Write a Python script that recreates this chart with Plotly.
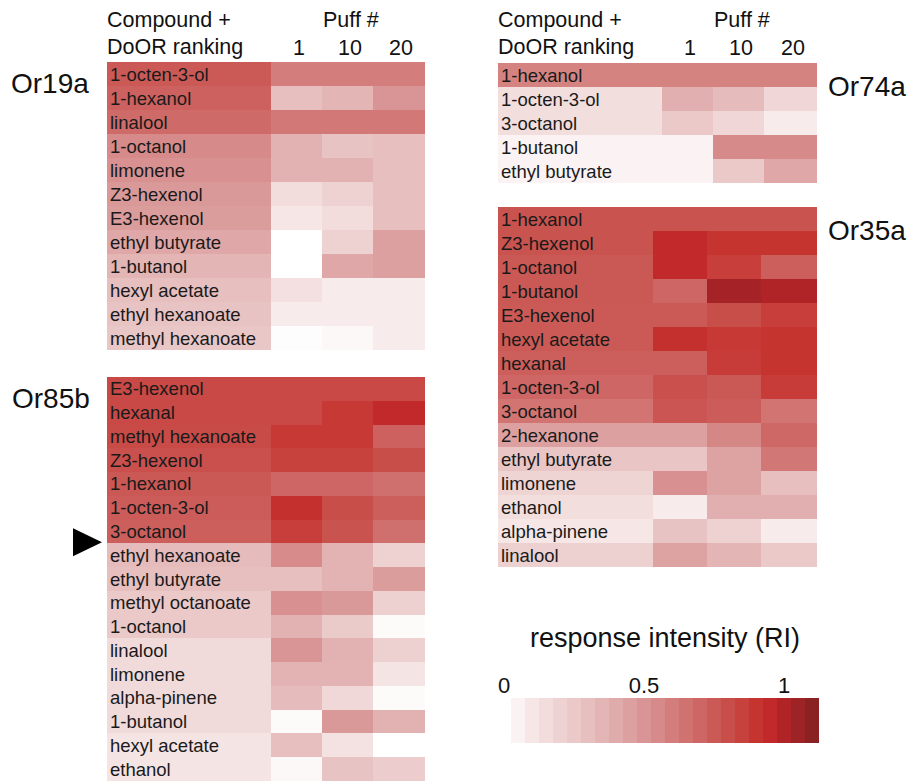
import plotly.graph_objects as go

W, H = 909, 781
FONT = "Liberation Sans, Arial, sans-serif"

puff_labels = ["1", "10", "20"]

# Or19a
or19a_compounds = ["1-octen-3-ol", "1-hexanol", "linalool", "1-octanol", "limonene",
                   "Z3-hexenol", "E3-hexenol", "ethyl butyrate", "1-butanol",
                   "hexyl acetate", "ethyl hexanoate", "methyl hexanoate"]
or19a_door = [0.75, 0.72, 0.68, 0.55, 0.52, 0.48, 0.47, 0.42, 0.35, 0.30, 0.28, 0.26]
or19a_puff1 = [0.60, 0.30, 0.62, 0.37, 0.37, 0.15, 0.10, 0.00, 0.00, 0.13, 0.08, 0.01]
or19a_puff10 = [0.60, 0.35, 0.62, 0.28, 0.37, 0.20, 0.15, 0.20, 0.42, 0.08, 0.08, 0.03]
or19a_puff20 = [0.60, 0.50, 0.62, 0.30, 0.30, 0.30, 0.30, 0.45, 0.45, 0.08, 0.08, 0.08]

# Or85b
or85b_compounds = ["E3-hexenol", "hexanal", "methyl hexanoate", "Z3-hexenol", "1-hexanol",
                   "1-octen-3-ol", "3-octanol", "ethyl hexanoate", "ethyl butyrate",
                   "methyl octanoate", "1-octanol", "linalool", "limonene", "alpha-pinene",
                   "1-butanol", "hexyl acetate", "ethanol"]
or85b_door = [0.82, 0.82, 0.81, 0.79, 0.76, 0.74, 0.73, 0.32, 0.30, 0.25, 0.25,
              0.16, 0.16, 0.16, 0.16, 0.11, 0.11]
or85b_puff1 = [0.82, 0.82, 0.88, 0.85, 0.70, 0.92, 0.86, 0.54, 0.30, 0.52, 0.37,
               0.50, 0.36, 0.32, 0.02, 0.30, 0.03]
or85b_puff10 = [0.82, 0.88, 0.88, 0.85, 0.70, 0.80, 0.78, 0.36, 0.36, 0.48, 0.24,
                0.37, 0.36, 0.17, 0.48, 0.12, 0.28]
or85b_puff20 = [0.82, 0.95, 0.72, 0.80, 0.66, 0.73, 0.66, 0.20, 0.47, 0.21, 0.02,
                0.21, 0.11, 0.02, 0.37, 0.00, 0.23]

# Or74a
or74a_compounds = ["1-hexanol", "1-octen-3-ol", "3-octanol", "1-butanol", "ethyl butyrate"]
or74a_door = [0.58, 0.14, 0.14, 0.05, 0.05]
or74a_puff1 = [0.58, 0.38, 0.25, 0.05, 0.05]
or74a_puff10 = [0.58, 0.32, 0.18, 0.55, 0.25]
or74a_puff20 = [0.58, 0.18, 0.08, 0.55, 0.42]

# Or35a
or35a_compounds = ["1-hexanol", "Z3-hexenol", "1-octanol", "1-butanol", "E3-hexenol",
                   "hexyl acetate", "hexanal", "1-octen-3-ol", "3-octanol", "2-hexanone",
                   "ethyl butyrate", "limonene", "ethanol", "alpha-pinene", "linalool"]
or35a_door = [0.78, 0.78, 0.76, 0.76, 0.75, 0.75, 0.73, 0.70, 0.64, 0.45, 0.27,
              0.19, 0.14, 0.10, 0.21]
or35a_puff1 = [0.78, 0.95, 0.95, 0.70, 0.75, 0.92, 0.73, 0.79, 0.77, 0.45, 0.27,
               0.52, 0.08, 0.28, 0.44]
or35a_puff10 = [0.78, 0.90, 0.86, 1.03, 0.80, 0.88, 0.87, 0.76, 0.74, 0.56, 0.44,
                0.44, 0.38, 0.20, 0.35]
or35a_puff20 = [0.78, 0.90, 0.73, 1.00, 0.86, 0.90, 0.90, 0.87, 0.64, 0.69, 0.63,
                0.30, 0.38, 0.08, 0.25]

# legend steps (response intensity)
ri_steps = [0.0, 0.05, 0.1, 0.15, 0.2, 0.25, 0.3, 0.35, 0.4, 0.45, 0.5, 0.55,
            0.6, 0.65, 0.7, 0.75, 0.8, 0.85, 0.9, 0.95, 1.0, 1.05, 1.1]
ri_ticks = [0, 0.5, 1]

ZMAX = 1.1
color_stops = [
    (0.0, "#FFFFFF"), (0.1, "#F6E6E6"), (0.2, "#EED2D2"), (0.3, "#E7BFBF"),
    (0.4, "#E0ABAB"), (0.5, "#D99595"), (0.6, "#D37E7C"), (0.7, "#CD6664"),
    (0.8, "#C84E4A"), (0.9, "#C63430"), (0.95, "#C2292A"), (1.0, "#B02427"),
    (1.1, "#8A2224"),
]
colorscale = [[v / ZMAX, c] for v, c in color_stops]


def px(x):
    return x / W


def py(y):
    return 1 - y / H


panels = [
    dict(name="Or19a", compounds=or19a_compounds,
         cols=[or19a_door, or19a_puff1, or19a_puff10, or19a_puff20],
         box=(107, 62, 425, 350), edges=[0, 164, 215, 266, 318],
         label=(50, 84), header=True),
    dict(name="Or85b", compounds=or85b_compounds,
         cols=[or85b_door, or85b_puff1, or85b_puff10, or85b_puff20],
         box=(107, 377, 425, 781), edges=[0, 164, 215, 266, 318],
         label=(51, 398), header=False),
    dict(name="Or74a", compounds=or74a_compounds,
         cols=[or74a_door, or74a_puff1, or74a_puff10, or74a_puff20],
         box=(498, 63, 817, 183), edges=[0, 164, 215, 266, 319],
         label=(867, 86), header=True),
    dict(name="Or35a", compounds=or35a_compounds,
         cols=[or35a_door, or35a_puff1, or35a_puff10, or35a_puff20],
         box=(498, 207, 817, 567), edges=[0, 155, 209, 263, 319],
         label=(867, 230), header=False),
]

fig = go.Figure()
annotations = []
layout_axes = {}

for i, p in enumerate(panels, start=1):
    left, top, right, bottom = p["box"]
    xa, ya = f"x{i}", f"y{i}"
    z = [list(row) for row in zip(*p["cols"])]
    n = len(p["compounds"])
    fig.add_trace(go.Heatmap(
        z=z, x=p["edges"], y=list(range(n)),
        xaxis=xa, yaxis=ya,
        colorscale=colorscale, zmin=0, zmax=ZMAX,
        showscale=False, hoverinfo="skip",
    ))
    layout_axes[f"xaxis{i}"] = dict(
        domain=[px(left), px(right)], anchor=ya,
        range=[p["edges"][0], p["edges"][-1]], visible=False, fixedrange=True,
    )
    layout_axes[f"yaxis{i}"] = dict(
        domain=[py(bottom), py(top)], anchor=xa,
        range=[n - 0.5, -0.5], visible=False, fixedrange=True,
    )
    # compound names
    for r, name in enumerate(p["compounds"]):
        annotations.append(dict(
            x=p["edges"][0], y=r, xref=xa, yref=ya, text=name,
            xanchor="left", yanchor="middle", showarrow=False, xshift=1,
            font=dict(size=18.5, color="#1a1a1a"),
        ))
    # receptor label
    annotations.append(dict(
        x=px(p["label"][0]), y=py(p["label"][1]), xref="paper", yref="paper",
        text=p["name"], showarrow=False, xanchor="center", yanchor="middle",
        font=dict(size=28, color="#111"),
    ))
    if p["header"]:
        for txt, yy in (("Compound +", 20), ("DoOR ranking", 47)):
            annotations.append(dict(
                x=px(left), y=py(yy), xref="paper", yref="paper", text=txt,
                xanchor="left", yanchor="middle", showarrow=False, xshift=-2,
                font=dict(size=21.5, color="#111"),
            ))
        e = p["edges"]
        centers = [(e[k] + e[k + 1]) / 2 for k in range(1, 4)]
        annotations.append(dict(
            x=centers[1] + 3, y=py(20), xref=xa, yref="paper", text="Puff #",
            xanchor="center", yanchor="middle", showarrow=False,
            font=dict(size=21.5, color="#111"),
        ))
        for c, lab in zip(centers, puff_labels):
            annotations.append(dict(
                x=c + 2, y=py(48), xref=xa, yref="paper", text=lab,
                xanchor="center", yanchor="middle", showarrow=False,
                font=dict(size=21.5, color="#111"),
            ))

# response intensity legend bar
fig.add_trace(go.Heatmap(
    z=[ri_steps], x=ri_steps, y=[0], xaxis="x5", yaxis="y5",
    colorscale=colorscale, zmin=0, zmax=ZMAX, showscale=False, hoverinfo="skip",
))
layout_axes["xaxis5"] = dict(
    domain=[px(497), px(819)], anchor="y5", range=[-0.025, 1.125],
    side="top", tickvals=ri_ticks, ticktext=["0", "0.5", "1"], ticks="",
    showgrid=False, zeroline=False, showline=False, fixedrange=True,
    tickfont=dict(size=22, color="#111"),
)
layout_axes["yaxis5"] = dict(
    domain=[py(743), py(698)], anchor="x5", visible=False, fixedrange=True,
)
annotations.append(dict(
    x=px(665), y=py(638), xref="paper", yref="paper",
    text="response intensity (RI)", showarrow=False,
    xanchor="center", yanchor="middle", font=dict(size=27, color="#111"),
))

fig.update_layout(
    width=W, height=H,
    margin=dict(t=0, l=0, b=0, r=0),
    paper_bgcolor="white", plot_bgcolor="white",
    font=dict(family=FONT),
    annotations=annotations,
    shapes=[dict(
        type="path", xref="paper", yref="y2",
        xsizemode="pixel", xanchor=px(88),
        ysizemode="pixel", yanchor=6.45,
        path="M -15,-14 L 14,0 L -15,14 Z",
        fillcolor="black", line=dict(width=0),
    )],
    **layout_axes,
)

# drop the default body margin so the figure fills the window exactly
fig.write_html(
    "out.html",
    config={"displayModeBar": False},
    post_script="document.body.style.margin='0';",
)
